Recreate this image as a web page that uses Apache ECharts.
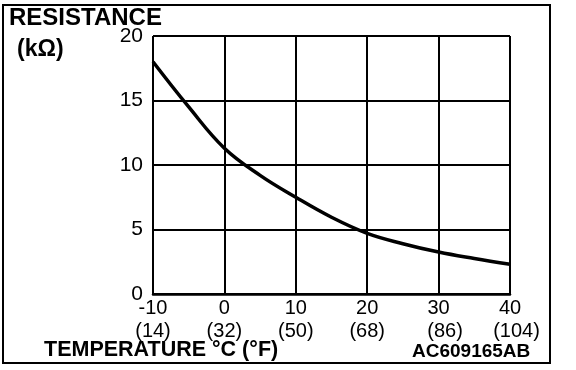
<!DOCTYPE html>
<html>
<head>
<meta charset="utf-8">
<script src="https://cdn.jsdelivr.net/npm/echarts@6/dist/echarts.min.js"></script>
<style>html,body{margin:0;padding:0;background:#fff;}#c{width:576px;height:370px;}</style>
</head>
<body>
<div id="c"></div>
<script>
// Data
const temperatureC = [-10, -5, 0, 5, 10, 15, 20, 25, 30, 35, 40];
const resistanceK = [18.0, 14.5, 11.3, 9.2, 7.5, 5.95, 4.7, 3.9, 3.25, 2.75, 2.3];
const xTickC = [-10, 0, 10, 20, 30, 40];
const xTickF = ['(14)', '(32)', '(50)', '(68)', '(86)', '(104)'];
const yTicks = [0, 5, 10, 15, 20];

const chart = echarts.init(document.getElementById('c'), null, {renderer: 'canvas'});
const tickFont = 'Liberation Sans';
const boldFont = 'Liberation Sans';

chart.setOption({
  animation: false,
  backgroundColor: '#fff',
  grid: {left: 153, top: 36, width: 357, height: 258, show: false},
  xAxis: [{
    type: 'value', min: -10, max: 40, interval: 10,
    axisLine: {show: true, onZero: false, lineStyle: {color: '#000', width: 2.5}},
    axisTick: {show: false},
    splitLine: {show: true, lineStyle: {color: '#000', width: 2}},
    axisLabel: {color: '#000', fontFamily: tickFont, fontSize: 20, margin: 4,
      formatter: v => xTickC.includes(v) ? String(v) : ''}
  }, {
    type: 'value', min: -10, max: 40, interval: 10, position: 'bottom',
    axisLine: {show: false}, axisTick: {show: false}, splitLine: {show: false},
    axisLabel: {color: '#000', fontFamily: tickFont, fontSize: 20, margin: 27,
      formatter: v => {
        const i = xTickC.indexOf(v);
        if (i < 0) return '';
        return i >= xTickC.length - 2 ? '{s|' + xTickF[i] + '}' : xTickF[i];
      },
      rich: {s: {color: '#000', fontFamily: tickFont, fontSize: 20, padding: [0, 0, 0, 13]}}
    }
  }],
  yAxis: {
    type: 'value', min: 0, max: 20, interval: 5,
    axisLine: {show: true, lineStyle: {color: '#000', width: 2}},
    axisTick: {show: false},
    splitLine: {show: true, lineStyle: {color: '#000', width: 2}},
    axisLabel: {color: '#000', fontFamily: tickFont, fontSize: 21, margin: 10,
      formatter: v => yTicks.includes(v) ? String(v) : ''}
  },
  series: [{
    type: 'line', xAxisIndex: 0,
    data: temperatureC.map((t, i) => [t, resistanceK[i]]),
    smooth: 0.4, showSymbol: false, symbol: 'none',
    lineStyle: {color: '#000', width: 3.5}
  }],
  graphic: [
    {type: 'rect', shape: {x: 3, y: 5, width: 547, height: 358}, style: {fill: null, stroke: '#000', lineWidth: 2}, silent: true},
    {type: 'text', x: 9, y: 18, style: {text: 'RESISTANCE', font: 'bold 24px ' + boldFont, fill: '#000', verticalAlign: 'middle'}},
    {type: 'text', x: 17, y: 50, style: {text: '(kΩ)', font: 'bold 23px ' + boldFont, fill: '#000', verticalAlign: 'middle'}},
    {type: 'text', x: 44, y: 350, style: {text: 'TEMPERATURE °C (°F)', font: 'bold 21.5px ' + boldFont, fill: '#000', verticalAlign: 'middle'}},
    {type: 'text', x: 412, y: 352, style: {text: 'AC609165AB', font: 'bold 19px ' + boldFont, fill: '#000', verticalAlign: 'middle'}}
  ]
});
</script>
</body>
</html>
